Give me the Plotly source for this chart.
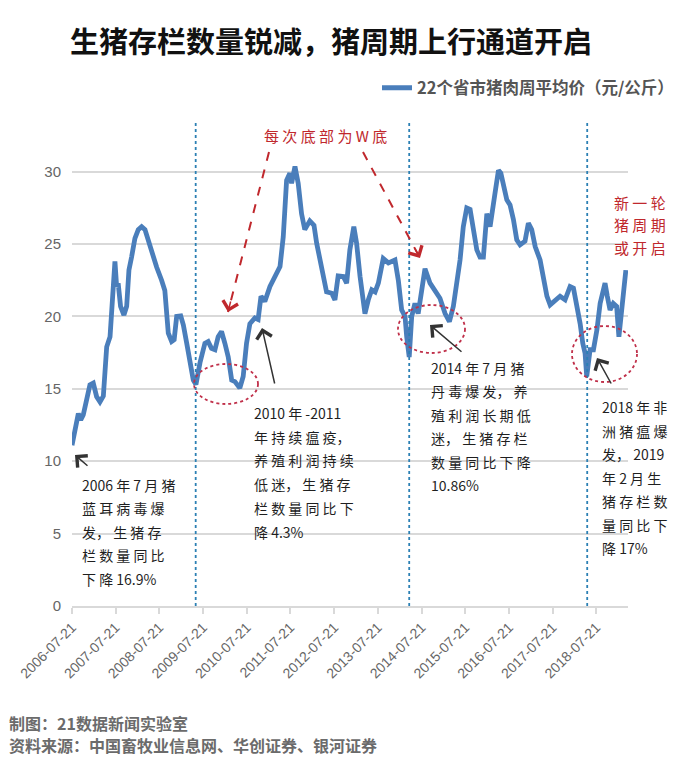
import plotly.graph_objects as go

# ---------------- data ----------------
dates = [
    "2006-07-21", "2006-09-12", "2006-10-02", "2006-10-23", "2006-12-18",
    "2007-01-15", "2007-02-12", "2007-03-12", "2007-04-09", "2007-05-07",
    "2007-06-04", "2007-06-18", "2007-07-15", "2007-07-29", "2007-08-11",
    "2007-08-31", "2007-09-28", "2007-10-21", "2007-11-09", "2007-12-01",
    "2007-12-29", "2008-01-26", "2008-02-23", "2008-03-22", "2008-04-18",
    "2008-05-16", "2008-06-28", "2008-08-08", "2008-09-04", "2008-10-03",
    "2008-10-31", "2008-11-21", "2008-12-12", "2009-01-15", "2009-02-06",
    "2009-03-06", "2009-04-03", "2009-04-30", "2009-05-22", "2009-06-25",
    "2009-08-05", "2009-09-01", "2009-09-29", "2009-10-28", "2009-11-24",
    "2009-12-22", "2010-01-19", "2010-02-16", "2010-03-17", "2010-04-13",
    "2010-05-24", "2010-06-21", "2010-07-19", "2010-08-16", "2010-09-27",
    "2010-10-24", "2010-11-17", "2010-12-19", "2011-01-31", "2011-03-13",
    "2011-04-25", "2011-05-22", "2011-06-19", "2011-07-16", "2011-07-31",
    "2011-08-28", "2011-09-24", "2011-10-22", "2011-11-18", "2011-12-30",
    "2012-02-03", "2012-02-25", "2012-04-07", "2012-05-18", "2012-06-30",
    "2012-07-27", "2012-08-23", "2012-10-05", "2012-11-02", "2012-11-29",
    "2013-01-01", "2013-01-24", "2013-02-22", "2013-04-04", "2013-05-02",
    "2013-05-31", "2013-06-28", "2013-07-25", "2013-09-04", "2013-10-17",
    "2013-12-11", "2014-01-08", "2014-02-05", "2014-03-05", "2014-03-19",
    "2014-04-09", "2014-04-30", "2014-05-27", "2014-06-23", "2014-07-23",
    "2014-08-19", "2014-09-30", "2014-11-10", "2014-12-22", "2015-02-03",
    "2015-03-11", "2015-04-13", "2015-05-11", "2015-06-08", "2015-07-05",
    "2015-08-03", "2015-08-31", "2015-09-27", "2015-10-26", "2015-11-22",
    "2015-12-20", "2016-01-18", "2016-02-14", "2016-03-26", "2016-04-24",
    "2016-05-14", "2016-06-04", "2016-07-03", "2016-07-30", "2016-08-27",
    "2016-09-24", "2016-10-22", "2016-12-02", "2016-12-30", "2017-01-27",
    "2017-02-25", "2017-04-07", "2017-05-05", "2017-06-03", "2017-06-30",
    "2017-08-11", "2017-09-21", "2017-11-02", "2017-12-14", "2018-01-11",
    "2018-02-08", "2018-03-08", "2018-03-30", "2018-04-18", "2018-05-02",
    "2018-05-30", "2018-06-27", "2018-07-26", "2018-08-22", "2018-09-12",
    "2018-10-02", "2018-10-21", "2018-11-13", "2018-12-10", "2019-01-07",
    "2019-01-26", "2019-02-17", "2019-03-08", "2019-03-25",
]
prices = [
    11.1, 13.3, 12.85, 13.2, 15.27,
    15.4, 14.46, 14.1, 14.5, 17.9,
    18.6, 20.45, 23.8, 22.07, 22.3,
    20.7, 20.1, 20.7, 23.2, 24.1,
    25.4, 26.0, 26.2, 26.0, 25.3,
    24.4, 23.4, 22.5, 21.8, 18.85,
    18.27, 18.4, 20.0, 20.04, 19.4,
    18.15, 17.0, 15.6, 15.3, 16.8,
    18.15, 18.27, 17.8, 17.7, 18.6,
    18.96, 18.15, 17.2, 15.6, 15.5,
    15.05, 15.85, 18.15, 19.5, 19.9,
    19.8, 21.4, 21.04, 22.07, 22.76,
    23.45, 25.5, 29.4, 29.9, 29.2,
    30.36, 29.2, 27.1, 26.0, 26.6,
    26.3, 25.07, 23.45, 21.7, 21.6,
    21.15, 22.8, 22.76, 22.3, 24.6,
    26.2, 25.07, 22.76, 20.2, 21.15,
    21.84, 21.7, 22.3, 24.0, 23.7,
    23.9, 22.5, 20.45, 20.0, 18.6,
    17.2, 20.0, 20.9, 20.2, 21.84,
    23.3, 22.3, 21.84, 21.26, 20.2,
    19.65, 20.7, 22.3, 23.9, 26.2,
    27.5, 27.4, 26.0, 24.6, 24.1,
    24.1, 27.1, 26.2, 28.5, 30.1,
    29.9, 29.2, 28.06, 27.7, 26.7,
    25.3, 24.95, 25.2, 26.45, 26.0,
    24.83, 23.9, 22.5, 21.4, 20.8,
    21.15, 21.4, 21.15, 22.07, 21.96,
    20.9, 19.5, 18.15, 17.47, 15.85,
    17.7, 17.7, 19.07, 20.9, 21.84,
    22.3, 21.4, 20.45, 20.9, 20.7,
    18.6, 20.0, 21.84, 23.2,
]
cycle_bottom_dates = ["2009-05-20", "2014-04-09", "2018-05-06"]
tick_dates = ["2006-07-21", "2007-07-21", "2008-07-21", "2009-07-21", "2010-07-21",
              "2011-07-21", "2012-07-21", "2013-07-21", "2014-07-21", "2015-07-21",
              "2016-07-21", "2017-07-21", "2018-07-21"]
tick_labels = list(tick_dates)
y_ticks = [0, 5, 10, 15, 20, 25, 30]
series_name = "22个省市猪肉周平均价（元/公斤）"
title_text = "生猪存栏数量锐减，猪周期上行通道开启"

# ---------------- layout geometry ----------------
W, H = 700, 772
L, R, T, B = 72, 628, 123, 606


def px(x):
    return (x - L) / (R - L)


def py(y):
    return (B - y) / (B - T)


CJK = "Noto Sans CJK SC"
RED = "#c0282d"
BLUE = "#4a7ebb"

fig = go.Figure()
fig.add_trace(go.Scatter(
    x=dates, y=prices, mode="lines", name=series_name,
    line=dict(color=BLUE, width=4.8),
))

shapes = []
for d in cycle_bottom_dates:
    shapes.append(dict(type="line", xref="x", yref="paper", x0=d, x1=d, y0=0, y1=1,
                       line=dict(color="#2c80b4", width=1.8, dash="dot")))

# red dotted ellipses
for (x0, x1, y0, y1) in [(194, 258, 364, 404), (398, 465, 305, 353), (572, 637, 326, 382)]:
    shapes.append(dict(type="circle", xref="paper", yref="paper",
                       x0=px(x0), x1=px(x1), y0=py(y1), y1=py(y0),
                       line=dict(color="#c0304a", width=1.8, dash="dot")))

# red dashed arrows (shaft)
for (x0, y0, x1, y1) in [(269, 152, 228, 312), (363, 152, 420, 258)]:
    shapes.append(dict(type="line", xref="paper", yref="paper",
                       x0=px(x0), y0=py(y0), x1=px(x1), y1=py(y1),
                       line=dict(color=RED, width=2, dash="dash")))

annotations = []
# red arrow heads
for (hx, hy, ax, ay) in [(228, 312, 3, -12), (420, 258, -6, -11)]:
    annotations.append(dict(xref="paper", yref="paper", x=px(hx), y=py(hy), text="",
                            showarrow=True, ax=ax, ay=ay, arrowhead=4, arrowsize=2,
                            arrowwidth=1.5, arrowcolor=RED, standoff=0))

# black arrows
for (hx, hy, ax, ay) in [(75, 455, 14, 12), (262, 328, 13, 57), (430, 325, 33, 28), (597, 358, 15, 27)]:
    annotations.append(dict(xref="paper", yref="paper", x=px(hx), y=py(hy), text="",
                            showarrow=True, ax=ax, ay=ay, arrowhead=4, arrowsize=2,
                            arrowwidth=1.5, arrowcolor="#333333", standoff=0))


def text_block(lines, x0, y0, dy, color="#1f1f1f", size=14, bold=False):
    for i, s in enumerate(lines):
        annotations.append(dict(xref="paper", yref="paper", x=px(x0), y=py(y0 + i * dy),
                                text=("<b>" + s + "</b>") if bold else s,
                                showarrow=False, xanchor="left", yanchor="middle",
                                font=dict(family=CJK, size=size, color=color)))


text_block(["2006 年 7 月 猪", "蓝 耳 病 毒 爆", "发， 生 猪 存", "栏 数 量 同 比", "下 降 16.9%"],
           80, 485, 23.4)
text_block(["2010 年 -2011", "年 持 续 瘟 疫，", "养 殖 利 润 持 续", "低 迷， 生 猪 存",
            "栏 数 量 同 比 下", "降 4.3%"], 252, 413, 23.7)
text_block(["2014 年 7 月 猪", "丹 毒 爆 发， 养", "殖 利 润 长 期 低", "迷， 生 猪 存 栏",
            "数 量 同 比 下 降", "10.86%"], 429, 368, 23.4)
text_block(["2018 年 非", "洲 猪 瘟 爆", "发， 2019", "年 2 月 生", "猪 存 栏 数",
            "量 同 比 下", "降 17%"], 600, 407, 23.5)
text_block(["新 一 轮", "猪 周 期", "或 开 启"], 612, 202, 22.5, color=RED, size=15)
text_block(["每 次 底 部 为 W 底"], 262, 135, 0, color=RED, size=15)

# footer
text_block(["制图：21数据新闻实验室"], 7, 723, 0, color="#6b6b6b", size=16, bold=True)
text_block(["资料来源：中国畜牧业信息网、华创证券、银河证券"], 7, 745, 0, color="#6b6b6b",
           size=16, bold=True)

fig.update_layout(
    width=W, height=H,
    margin=dict(l=L, r=W - R, t=T, b=H - B),
    paper_bgcolor="white", plot_bgcolor="white",
    title=dict(text="<b>" + title_text + "</b>", x=331 / W, xanchor="center",
               y=1 - 43 / H, yanchor="middle", xref="container", yref="container",
               font=dict(family=CJK, size=29, color="#111111")),
    showlegend=True,
    legend=dict(orientation="h", x=px(377), y=py(88), xanchor="left", yanchor="middle",
                font=dict(family=CJK, size=16.5, color="#555555", weight="bold"),
                bgcolor="rgba(0,0,0,0)"),
    shapes=shapes,
    annotations=annotations,
)
fig.update_xaxes(
    type="date", range=["2006-07-21", "2019-04-12"],
    tickmode="array", tickvals=tick_dates, ticktext=tick_labels, tickangle=-45,
    tickfont=dict(family="Liberation Sans", size=14, color="#666666"),
    showgrid=False, showline=True, linecolor="#d9d9d9", linewidth=1.5,
    ticks="outside", ticklen=6, tickcolor="#d9d9d9", tickwidth=1.5, zeroline=False,
)
fig.update_yaxes(
    range=[0, (B - T) / ((B - 171.7) / 30)],
    tickmode="array", tickvals=y_ticks,
    tickfont=dict(family="Liberation Sans", size=15, color="#666666"),
    showgrid=True, gridcolor="#d9d9d9", gridwidth=1.5, zeroline=False,
    showline=False, ticks="", ticklabelstandoff=10,
)

fig.write_html("out.html")
